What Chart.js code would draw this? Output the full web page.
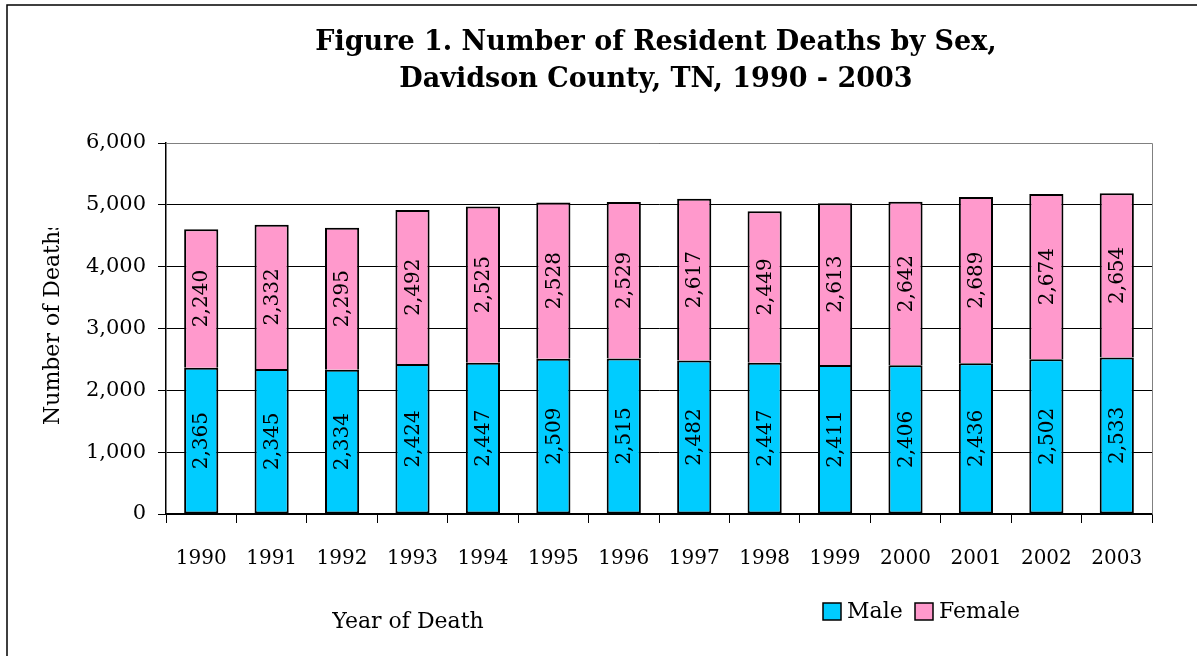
<!DOCTYPE html>
<html>
<head>
<meta charset="utf-8">
<script src="https://cdn.jsdelivr.net/npm/chart.js@4"></script>
<style>
html,body{margin:0;padding:0;background:#fff;}
#wrap{width:1197px;height:656px;position:relative;}
</style>
</head>
<body>
<div id="wrap"><canvas id="c" width="1197" height="656"></canvas></div>
<script>
const years = ['1990','1991','1992','1993','1994','1995','1996','1997','1998','1999','2000','2001','2002','2003'];
const maleDeaths = [2365, 2345, 2334, 2424, 2447, 2509, 2515, 2482, 2447, 2411, 2406, 2436, 2502, 2533];
const femaleDeaths = [2240, 2332, 2295, 2492, 2525, 2528, 2529, 2617, 2449, 2613, 2642, 2689, 2674, 2654];
const seriesNames = ['Male', 'Female'];
const titleLines = ['Figure 1. Number of Resident Deaths by Sex,', 'Davidson County, TN, 1990 - 2003'];
const yAxisTitle = 'Number of Deaths';
const xAxisTitle = 'Year of Death';

const FONT = "'DejaVu Serif', serif";
const fmt = v => v.toLocaleString('en-US');

const decor = {
  id: 'decor',
  afterDatasetsDraw(chart) {
    const ctx = chart.ctx;
    ctx.save();
    ctx.fillStyle = '#000';
    ctx.font = "20px " + FONT;
    ctx.textAlign = 'center';
    ctx.textBaseline = 'middle';
    chart.data.datasets.forEach((ds, di) => {
      const meta = chart.getDatasetMeta(di);
      meta.data.forEach((el, i) => {
        const cy = (el.y + el.base) / 2;
        ctx.save();
        ctx.translate(el.x, cy);
        ctx.rotate(-Math.PI / 2);
        ctx.fillText(fmt(ds.data[i]), 0, 1);
        ctx.restore();
      });
    });
    ctx.restore();
  },
  afterDraw(chart) {
    const ctx = chart.ctx;
    const a = chart.chartArea;
    ctx.save();
    ctx.strokeStyle = '#808080';
    ctx.lineWidth = 1;
    ctx.beginPath();
    ctx.moveTo(a.left, a.top + 0.5);
    ctx.lineTo(a.right + 0.5, a.top + 0.5);
    ctx.lineTo(a.right + 0.5, a.bottom);
    ctx.stroke();
    ctx.strokeStyle = '#000';
    ctx.lineWidth = 1.5;
    ctx.strokeRect(7, 5, 1400, 1000);
    ctx.fillStyle = '#000';
    ctx.font = "bold 27px " + FONT;
    ctx.textAlign = 'center';
    ctx.textBaseline = 'alphabetic';
    ctx.fillText(titleLines[0], 656, 50);
    ctx.fillText(titleLines[1], 656, 87);
    ctx.save();
    ctx.beginPath();
    ctx.rect(0, 228, 200, 400);
    ctx.clip();
    ctx.translate(59, 425);
    ctx.rotate(-Math.PI / 2);
    ctx.font = "22px " + FONT;
    ctx.textAlign = 'left';
    ctx.textBaseline = 'alphabetic';
    ctx.fillText(yAxisTitle, 0, 0);
    ctx.restore();
    ctx.font = "22px " + FONT;
    ctx.textAlign = 'center';
    ctx.textBaseline = 'middle';
    ctx.fillText(xAxisTitle, 408, 622);
    const lx = [823, 915];
    chart.data.datasets.forEach((ds, di) => {
      ctx.fillStyle = ds.backgroundColor;
      ctx.fillRect(lx[di], 603, 18, 17);
      ctx.strokeStyle = '#000';
      ctx.lineWidth = 1.5;
      ctx.strokeRect(lx[di], 603, 18, 17);
      ctx.fillStyle = '#000';
      ctx.font = "22px " + FONT;
      ctx.textAlign = 'left';
      ctx.textBaseline = 'middle';
      ctx.fillText(ds.label, lx[di] + 24, 612);
    });
    ctx.restore();
  }
};

new Chart(document.getElementById('c'), {
  type: 'bar',
  data: {
    labels: years,
    datasets: [
      { label: seriesNames[0], data: maleDeaths, backgroundColor: '#00CCFF', borderColor: '#000', borderWidth: 2, borderSkipped: false, categoryPercentage: 1, barPercentage: 0.485 },
      { label: seriesNames[1], data: femaleDeaths, backgroundColor: '#FF99CC', borderColor: '#000', borderWidth: 2, borderSkipped: 'start', categoryPercentage: 1, barPercentage: 0.485 }
    ]
  },
  options: {
    responsive: false,
    animation: false,
    events: [],
    layout: { padding: { left: 0, right: 45, top: 143, bottom: 82 } },
    plugins: { legend: { display: false }, title: { display: false }, tooltip: { enabled: false } },
    scales: {
      x: {
        stacked: true,
        afterFit(s) { s.height = 60; },
        grid: { offset: true, drawOnChartArea: false, tickLength: 9, tickColor: '#000', color: '#000' },
        border: { color: '#000', width: 1.5 },
        ticks: { color: '#000', font: { family: FONT, size: 20 }, padding: 24, maxRotation: 0 }
      },
      y: {
        stacked: true,
        min: 0, max: 6000,
        afterFit(s) { s.width = 166; },
        grid: { color: '#000', lineWidth: 1, tickLength: 8, tickColor: '#000' },
        border: { color: '#000', width: 1.5 },
        ticks: { stepSize: 1000, color: '#000', font: { family: FONT, size: 21 }, padding: 12, callback: v => fmt(v) }
      }
    }
  },
  plugins: [decor]
});
</script>
</body>
</html>
